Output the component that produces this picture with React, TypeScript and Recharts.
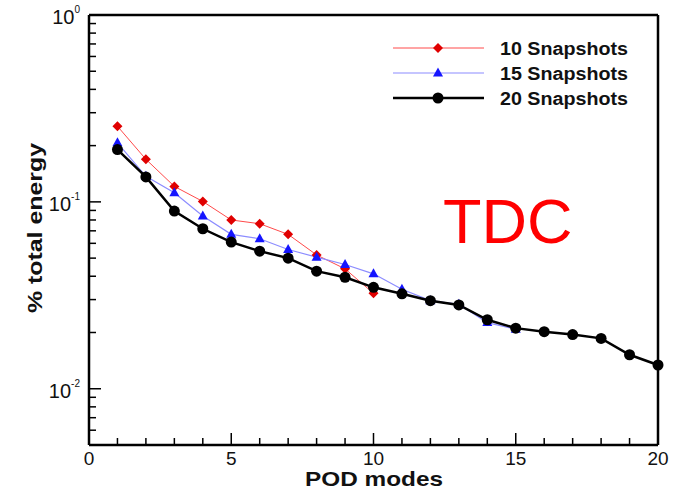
import { Label, Legend, Line, LineChart, ReferenceLine, XAxis, YAxis } from "recharts";

const modes = [1, 2, 3, 4, 5, 6, 7, 8, 9, 10, 11, 12, 13, 14, 15, 16, 17, 18, 19, 20];
const snap10 = [0.254, 0.169, 0.121, 0.1005, 0.08, 0.0764, 0.067, 0.052, 0.0438, 0.0324];
const snap15 = [
  0.207, 0.137, 0.112, 0.084, 0.067, 0.0635, 0.0556, 0.0506, 0.0462, 0.0412, 0.0341, 0.0296,
  0.0283, 0.0226, 0.0208
];
const snap20 = [
  0.1905, 0.136, 0.0893, 0.0718, 0.0609, 0.0545, 0.05, 0.0426, 0.0395, 0.0349, 0.0322, 0.0296,
  0.0281, 0.0234, 0.0211, 0.0202, 0.0195, 0.0186, 0.0152, 0.0134
];

const xTicks = [0, 1, 2, 3, 4, 5, 6, 7, 8, 9, 10, 11, 12, 13, 14, 15, 16, 17, 18, 19, 20];
const xMajor = [0, 5, 10, 15, 20];
const yTicks = [
  0.005, 0.006, 0.007, 0.008, 0.009, 0.01, 0.02, 0.03, 0.04, 0.05, 0.06, 0.07, 0.08, 0.09, 0.1,
  0.2, 0.3, 0.4, 0.5, 0.6, 0.7, 0.8, 0.9, 1
];
const yMajor = [0.01, 0.1, 1];
const yExponents = ["-2", "-1", "0"];

const seriesNames = ["10 Snapshots", "15 Snapshots", "20 Snapshots"];

const data = modes.map((mode, i) => ({
  mode,
  s10: snap10[i],
  s15: snap15[i],
  s20: snap20[i]
}));

const FONT = "'Liberation Sans', Arial, Helvetica, sans-serif";

function Diamond({ cx, cy }: any) {
  if (cx == null || cy == null) return <g />;
  return (
    <polygon
      points={`${cx},${cy - 5} ${cx + 5},${cy} ${cx},${cy + 5} ${cx - 5},${cy}`}
      fill="#e00000"
    />
  );
}

function Triangle({ cx, cy }: any) {
  if (cx == null || cy == null) return <g />;
  return (
    <polygon points={`${cx},${cy - 5.5} ${cx + 5},${cy + 3.5} ${cx - 5},${cy + 3.5}`} fill="#1515ff" />
  );
}

function Circle({ cx, cy }: any) {
  if (cx == null || cy == null) return <g />;
  return <circle cx={cx} cy={cy} r={5.5} fill="#000" />;
}

function XTick({ x, y, payload }: any) {
  const major = xMajor.includes(payload.value);
  return (
    <g>
      <line x1={x} x2={x} y1={y} y2={y - (major ? 12 : 7)} stroke="#000" strokeWidth={1.5} />
      {major && (
        <text x={x} y={y + 20} textAnchor="middle" fontSize={19} fontFamily={FONT} fill="#111">
          {payload.value}
        </text>
      )}
    </g>
  );
}

function YTick({ x, y, payload }: any) {
  const idx = yMajor.indexOf(payload.value);
  const major = idx >= 0;
  return (
    <g>
      <line x1={x} x2={x + (major ? 12 : 7)} y1={y} y2={y} stroke="#000" strokeWidth={1.5} />
      {major && (
        <text x={x - 9} y={y + 9} textAnchor="end" fontSize={20} fontFamily={FONT} fill="#111">
          10
          <tspan dy={-11} fontSize={10}>
            {yExponents[idx]}
          </tspan>
        </text>
      )}
    </g>
  );
}

function LegendBox() {
  const rows = [
    { stroke: "#ff4a4a", width: 1, Marker: Diamond },
    { stroke: "#8c8cff", width: 1.2, Marker: Triangle },
    { stroke: "#000", width: 2.5, Marker: Circle }
  ];
  return (
    <svg width={280} height={90}>
      {rows.map((row, i) => {
        const yy = 18 + i * 25;
        return (
          <g key={i}>
            <line x1={23} x2={114} y1={yy} y2={yy} stroke={row.stroke} strokeWidth={row.width} />
            <row.Marker cx={68} cy={yy} />
            <text
              x={130}
              y={yy + 7}
              fontSize={18}
              fontWeight="bold"
              fontFamily={FONT}
              textLength={128}
              lengthAdjust="spacingAndGlyphs"
              fill="#111"
            >
              {seriesNames[i]}
            </text>
          </g>
        );
      })}
    </svg>
  );
}

export default function App() {
  return (
    <div
      style={{
        position: "absolute",
        left: 0,
        top: 0,
        width: 675,
        height: 495,
        background: "#fff",
        fontFamily: FONT
      }}
    >
      <LineChart
        width={675}
        height={495}
        data={data}
        margin={{ top: 15, right: 17, bottom: 0, left: 29 }}
      >
        <XAxis
          dataKey="mode"
          type="number"
          domain={[0, 20]}
          ticks={xTicks}
          interval={0}
          height={50}
          tickSize={0}
          tickMargin={0}
          tickLine={false}
          axisLine={{ stroke: "#000", strokeWidth: 2.5 }}
          tick={<XTick />}
        >
          <Label
            content={() => (
              <text
                x={374}
                y={486}
                textAnchor="middle"
                fontSize={21}
                fontWeight="bold"
                fontFamily={FONT}
                textLength={138}
                lengthAdjust="spacingAndGlyphs"
                fill="#111"
              >
                POD modes
              </text>
            )}
          />
        </XAxis>
        <YAxis
          scale="log"
          domain={[0.005, 1]}
          allowDataOverflow
          ticks={yTicks}
          interval={0}
          width={60}
          tickSize={0}
          tickMargin={0}
          tickLine={false}
          axisLine={{ stroke: "#000", strokeWidth: 2.5 }}
          tick={<YTick />}
        >
          <Label
            content={() => (
              <text
                x={42}
                y={228}
                transform="rotate(-90 42 228)"
                textAnchor="middle"
                fontSize={21}
                fontWeight="bold"
                fontFamily={FONT}
                textLength={170}
                lengthAdjust="spacingAndGlyphs"
                fill="#111"
              >
                % total energy
              </text>
            )}
          />
        </YAxis>
        <ReferenceLine y={1} stroke="#000" strokeWidth={2.5} />
        <ReferenceLine x={20} stroke="#000" strokeWidth={2.5} />
        <Line
          dataKey="s10"
          name={seriesNames[0]}
          stroke="#ff4a4a"
          strokeWidth={1}
          dot={<Diamond />}
          isAnimationActive={false}
        />
        <Line
          dataKey="s15"
          name={seriesNames[1]}
          stroke="#8c8cff"
          strokeWidth={1.2}
          dot={<Triangle />}
          isAnimationActive={false}
        />
        <Line
          dataKey="s20"
          name={seriesNames[2]}
          stroke="#000"
          strokeWidth={2.5}
          dot={<Circle />}
          isAnimationActive={false}
        />
        <Legend
          layout="horizontal"
          align="center"
          verticalAlign="middle"
          content={() => <LegendBox />}
          wrapperStyle={{ left: 370, top: 30, width: 280, height: 90 }}
        />
        <text x={443} y={243} fontSize={63} fontFamily={FONT} fill="#ff0000">
          TDC
        </text>
      </LineChart>
    </div>
  );
}
